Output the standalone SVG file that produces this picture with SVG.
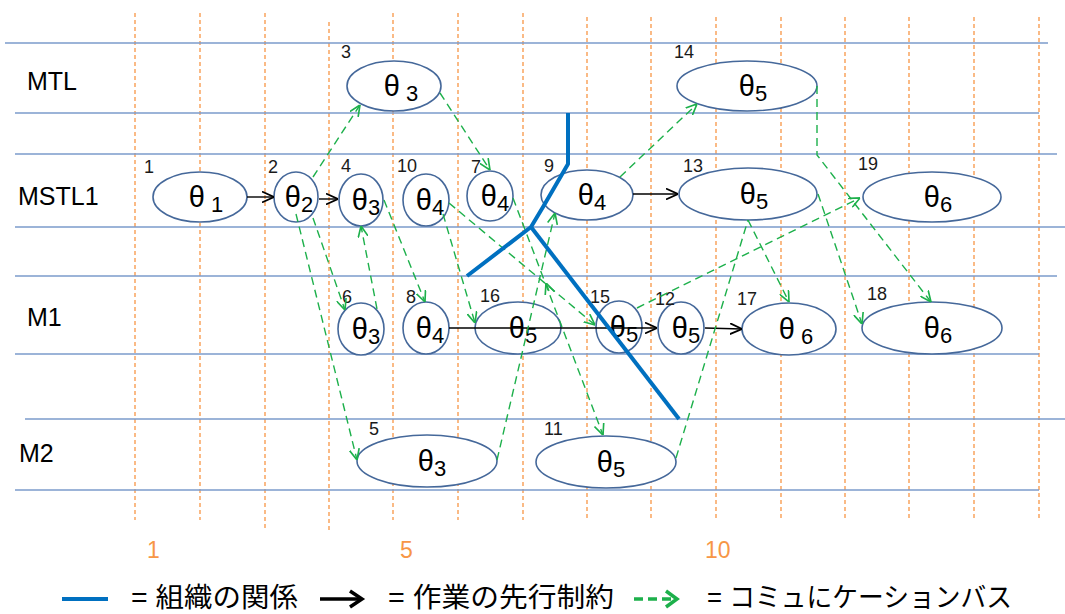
<svg xmlns="http://www.w3.org/2000/svg" width="1065" height="614" viewBox="0 0 1065 614">
<style>
.hl{stroke:#7B9BCB;stroke-width:1.5;fill:none}
.vl{stroke:#F79646;stroke-width:1.3;stroke-dasharray:4 3;fill:none}
.node ellipse{fill:#fff;stroke:#45689A;stroke-width:1.6}
.num{font-family:"Liberation Sans",Arial,sans-serif;font-size:18px;fill:#1a1a1a}
.th{font-family:"Liberation Sans",Arial,sans-serif;font-size:29px;text-anchor:middle;fill:#000}
.sub{font-size:22px}
.row{font-family:"Liberation Sans",Arial,sans-serif;font-size:25px;fill:#000}
.ax{font-family:"Liberation Sans",Arial,sans-serif;font-size:23px;fill:#F79646}
.g{stroke:#1DB04B;stroke-width:1.4;stroke-dasharray:8 5;fill:none}
.ga{marker-end:url(#ga)}
.k{stroke:#000;stroke-width:1.4;fill:none;marker-end:url(#ka)}
.org{stroke:#0070C0;stroke-width:4;fill:none;stroke-linejoin:round}
.leg{font-family:"Liberation Sans","Noto Sans CJK JP",sans-serif;font-size:27px;fill:#000}
</style>
<defs>
<marker id="ga" viewBox="0 0 10 10" refX="10" refY="5" markerUnits="userSpaceOnUse" markerWidth="11" markerHeight="11" orient="auto">
<path d="M0,0.5 L10,5 L0,9.5" fill="none" stroke="#1DB04B" stroke-width="1.5"/>
</marker>
<marker id="ka" viewBox="0 0 10 10" refX="10" refY="5" markerUnits="userSpaceOnUse" markerWidth="12" markerHeight="12" orient="auto">
<path d="M0,0.5 L10,5 L0,9.5" fill="none" stroke="#000" stroke-width="1.5"/>
</marker>
</defs>
<rect x="0" y="0" width="1065" height="614" fill="#fff"/>

<g id="grid-vertical">
<line class="vl" x1="135" y1="13" x2="135" y2="520"/>
<line class="vl" x1="200" y1="13" x2="200" y2="520"/>
<line class="vl" x1="265" y1="13" x2="265" y2="530"/>
<line class="vl" x1="329" y1="22" x2="329" y2="530"/>
<line class="vl" x1="393" y1="13" x2="393" y2="520"/>
<line class="vl" x1="458" y1="13" x2="458" y2="520"/>
<line class="vl" x1="523" y1="13" x2="523" y2="520"/>
<line class="vl" x1="587" y1="17" x2="587" y2="520"/>
<line class="vl" x1="651" y1="17" x2="651" y2="520"/>
<line class="vl" x1="716" y1="17" x2="716" y2="520"/>
<line class="vl" x1="781" y1="17" x2="781" y2="520"/>
<line class="vl" x1="845" y1="17" x2="845" y2="520"/>
<line class="vl" x1="909" y1="17" x2="909" y2="520"/>
<line class="vl" x1="974" y1="17" x2="974" y2="520"/>
<line class="vl" x1="1039" y1="17" x2="1039" y2="520"/>
</g>
<g id="grid-horizontal">
<line class="hl" x1="5" y1="43" x2="1048" y2="43"/>
<line class="hl" x1="15" y1="113" x2="1039" y2="113"/>
<line class="hl" x1="15" y1="154" x2="1057" y2="154"/>
<line class="hl" x1="15" y1="227" x2="1065" y2="227"/>
<line class="hl" x1="15" y1="276" x2="1057" y2="276"/>
<line class="hl" x1="15" y1="354" x2="1039" y2="354"/>
<line class="hl" x1="25" y1="419" x2="1065" y2="419"/>
<line class="hl" x1="15" y1="490" x2="1039" y2="490"/>
</g>
<g id="row-labels">
<text class="row" x="27" y="90">MTL</text>
<text class="row" x="18" y="205">MSTL1</text>
<text class="row" x="27" y="326">M1</text>
<text class="row" x="19" y="462">M2</text>
</g>
<g id="axis-labels">
<text class="ax" x="147" y="558">1</text>
<text class="ax" x="400" y="558">5</text>
<text class="ax" x="705" y="558">10</text>
</g>

<g id="node-1" class="node"><ellipse cx="200" cy="197" rx="47" ry="25"/><text class="num" x="144" y="173">1</text><text class="th" x="206" y="207">θ<tspan class="sub" dy="5"> 1</tspan></text></g>
<g id="node-2" class="node"><ellipse cx="296" cy="197" rx="22" ry="25"/><text class="num" x="268" y="173">2</text><text class="th" x="299" y="207">θ<tspan class="sub" dy="5">2</tspan></text></g>
<g id="node-3" class="node"><ellipse cx="394" cy="86" rx="47" ry="25"/><text class="num" x="341" y="58">3</text><text class="th" x="401" y="96">θ<tspan class="sub" dy="5"> 3</tspan></text></g>
<g id="node-4" class="node"><ellipse cx="361" cy="200" rx="22" ry="26"/><text class="num" x="341" y="172">4</text><text class="th" x="366" y="210">θ<tspan class="sub" dy="5">3</tspan></text></g>
<g id="node-10" class="node"><ellipse cx="426" cy="200" rx="23" ry="26"/><text class="num" x="397" y="172">10</text><text class="th" x="430" y="210">θ<tspan class="sub" dy="5">4</tspan></text></g>
<g id="node-7" class="node"><ellipse cx="490" cy="196" rx="23" ry="25"/><text class="num" x="471" y="173">7</text><text class="th" x="495" y="206">θ<tspan class="sub" dy="5">4</tspan></text></g>
<g id="node-9" class="node"><ellipse cx="587" cy="195" rx="46" ry="25"/><text class="num" x="544" y="172">9</text><text class="th" x="592" y="205">θ<tspan class="sub" dy="5">4</tspan></text></g>
<g id="node-13" class="node"><ellipse cx="748" cy="194" rx="69" ry="26"/><text class="num" x="683" y="172">13</text><text class="th" x="754" y="204">θ<tspan class="sub" dy="5">5</tspan></text></g>
<g id="node-14" class="node"><ellipse cx="747" cy="86" rx="70" ry="25"/><text class="num" x="674" y="58">14</text><text class="th" x="753" y="96">θ<tspan class="sub" dy="5">5</tspan></text></g>
<g id="node-19" class="node"><ellipse cx="932" cy="197" rx="69" ry="25"/><text class="num" x="858" y="170">19</text><text class="th" x="938" y="207">θ<tspan class="sub" dy="5">6</tspan></text></g>
<g id="node-6" class="node"><ellipse cx="361" cy="329" rx="23" ry="26"/><text class="num" x="342" y="303">6</text><text class="th" x="366" y="339">θ<tspan class="sub" dy="5">3</tspan></text></g>
<g id="node-8" class="node"><ellipse cx="426" cy="328" rx="23" ry="26"/><text class="num" x="406" y="303">8</text><text class="th" x="430" y="338">θ<tspan class="sub" dy="5">4</tspan></text></g>
<g id="node-16" class="node"><ellipse cx="518" cy="328" rx="43" ry="26"/><text class="num" x="480" y="302">16</text><text class="th" x="523" y="338">θ<tspan class="sub" dy="5">5</tspan></text></g>
<g id="node-15" class="node"><ellipse cx="619" cy="327" rx="23" ry="26"/><text class="num" x="590" y="303">15</text><text class="th" x="624" y="337">θ<tspan class="sub" dy="5">5</tspan></text></g>
<g id="node-12" class="node"><ellipse cx="681" cy="328" rx="23" ry="26"/><text class="num" x="655" y="305">12</text><text class="th" x="686" y="338">θ<tspan class="sub" dy="5">5</tspan></text></g>
<g id="node-17" class="node"><ellipse cx="789" cy="329" rx="47" ry="26"/><text class="num" x="737" y="305">17</text><text class="th" x="796" y="339">θ<tspan class="sub" dy="5"> 6</tspan></text></g>
<g id="node-18" class="node"><ellipse cx="932" cy="328" rx="70" ry="26"/><text class="num" x="867" y="300">18</text><text class="th" x="938" y="338">θ<tspan class="sub" dy="5">6</tspan></text></g>
<g id="node-5" class="node"><ellipse cx="427" cy="461" rx="70" ry="26"/><text class="num" x="369" y="435">5</text><text class="th" x="432" y="471">θ<tspan class="sub" dy="5">3</tspan></text></g>
<g id="node-11" class="node"><ellipse cx="606" cy="462" rx="70" ry="26"/><text class="num" x="544" y="435">11</text><text class="th" x="611" y="472">θ<tspan class="sub" dy="5">5</tspan></text></g>

<g id="connectors">
<g id="precedence">
<path class="k" d="M247,197 L274,197"/>
<path class="k" d="M319,199 L338,199"/>
<path class="k" d="M633,194 L678,194"/>
<path class="k" d="M449,328 L657,328"/>
<path class="k" d="M705,328 L742,329"/>
</g>
<g id="communication">
<path class="g ga" d="M313,177 L360,105"/>
<path class="g ga" d="M440,93 L490,170"/>
<path class="g ga" d="M313,218 L345,310"/>
<path class="g ga" d="M296,214 L357,460"/>
<path class="g ga" d="M377,309 L361,226"/>
<path class="g ga" d="M384,200 L425,302"/>
<path class="g ga" d="M443,214 L475,323"/>
<path class="g ga" d="M449,203 L595,325"/>
<path class="g ga" d="M513,198 L603,435"/>
<path class="g ga" d="M549,291 L546,283"/>
<path class="g ga" d="M497,460 L555,213"/>
<path class="g ga" d="M620,177 L697,104"/>
<path class="g ga" d="M637,308 L860,198"/>
<path class="g" d="M676,458 L748,220"/>
<path class="g ga" d="M748,220 L789,302"/>
<path class="g ga" d="M818,194 L862,324"/>
<path class="g ga" d="M817,86 L817,155 L931,302"/>
</g>
<g id="organization">
<path class="org" d="M568,113 L568,164 L543,207 L531,227 L467,276"/>
<path class="org" d="M531,227 L679,419"/>
</g>
</g>

<g id="legend">
<line x1="62" y1="599" x2="108" y2="599" stroke="#0070C0" stroke-width="4"/>
<text class="leg" x="131" y="607" textLength="167" lengthAdjust="spacingAndGlyphs">= 組織の関係</text>
<line x1="320" y1="599" x2="360" y2="599" stroke="#000" stroke-width="3.5"/>
<polyline points="350,591 362,599 350,607" fill="none" stroke="#000" stroke-width="3.5"/>
<text class="leg" x="388" y="607" textLength="226" lengthAdjust="spacingAndGlyphs">= 作業の先行制約</text>
<line x1="634" y1="599" x2="672" y2="599" stroke="#1DB04B" stroke-width="3.5" stroke-dasharray="9 5"/>
<polyline points="666,591 677,599 666,607" fill="none" stroke="#1DB04B" stroke-width="3.5"/>
<text class="leg" x="707" y="607" textLength="305" lengthAdjust="spacingAndGlyphs">= コミュにケーションバス</text>
</g>
</svg>
